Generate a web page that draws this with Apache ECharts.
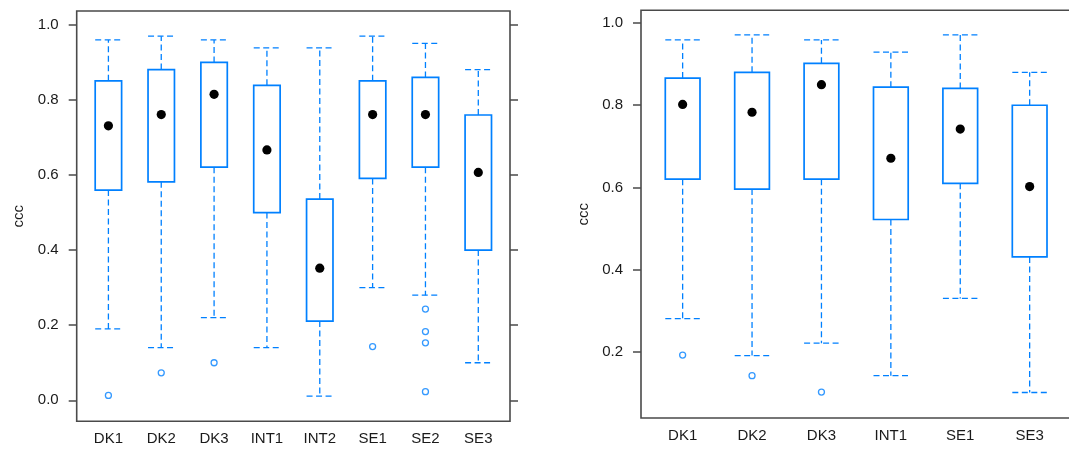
<!DOCTYPE html>
<html>
<head>
<meta charset="utf-8">
<script src="https://cdn.jsdelivr.net/npm/echarts@6/dist/echarts.min.js"></script>
<style>
html,body{margin:0;padding:0;background:#fff;}
#chart{width:1069px;height:451px;}
</style>
</head>
<body>
<div id="chart"></div>
<script>
// ---------- Data ----------
const leftCategories = ['DK1','DK2','DK3','INT1','INT2','SE1','SE2','SE3'];
const leftLowerWhisker = [0.19, 0.14, 0.22, 0.14, 0.011, 0.30, 0.28, 0.10];
const leftQ1           = [0.56, 0.582, 0.621, 0.50, 0.211, 0.591, 0.621, 0.40];
const leftMedian       = [0.731, 0.761, 0.815, 0.667, 0.352, 0.761, 0.761, 0.607];
const leftQ3           = [0.851, 0.881, 0.90, 0.839, 0.536, 0.851, 0.86, 0.76];
const leftUpperWhisker = [0.96, 0.97, 0.96, 0.939, 0.939, 0.97, 0.951, 0.881];
const leftOutlierCat   = ['DK1','DK2','DK3','SE1','SE2','SE2','SE2','SE2'];
const leftOutlierVal   = [0.013, 0.073, 0.10, 0.143, 0.243, 0.183, 0.153, 0.023];

const rightCategories = ['DK1','DK2','DK3','INT1','SE1','SE3'];
const rightLowerWhisker = [0.281, 0.191, 0.221, 0.142, 0.330, 0.101];
const rightQ1           = [0.620, 0.596, 0.620, 0.522, 0.610, 0.431];
const rightMedian       = [0.802, 0.783, 0.850, 0.671, 0.742, 0.602];
const rightQ3           = [0.866, 0.880, 0.902, 0.844, 0.841, 0.800];
const rightUpperWhisker = [0.959, 0.971, 0.959, 0.929, 0.971, 0.880];
const rightOutlierCat   = ['DK1','DK2','DK3'];
const rightOutlierVal   = [0.192, 0.142, 0.102];

const leftYTicks  = [0, 0.2, 0.4, 0.6, 0.8, 1.0];
const rightYTicks = [0.2, 0.4, 0.6, 0.8, 1.0];
const yAxisName = 'ccc';

// ---------- Styles ----------
const BLUE = '#0080ff';
const FRAME = '#4a4a4a';
const TEXT = '#1a1a1a';
const FONT = 'Liberation Sans, Arial, sans-serif';

function boxData(cats, lo, q1, med, q3, hi) {
  return cats.map((c, i) => [i + 1, lo[i], q1[i], med[i], q3[i], hi[i]]);
}
function outlierData(cats, oc, ov) {
  return oc.map((c, i) => [cats.indexOf(c) + 1, ov[i]]);
}

function renderBox(params, api) {
  const x = api.value(0);
  const lo = api.value(1), q1 = api.value(2), md = api.value(3), q3 = api.value(4), hi = api.value(5);
  const halfW = api.size([0.5, 0])[0] / 2;
  const pLo = api.coord([x, lo]);
  const pQ1 = api.coord([x, q1]);
  const pMd = api.coord([x, md]);
  const pQ3 = api.coord([x, q3]);
  const pHi = api.coord([x, hi]);
  const cx = pMd[0];
  const dashStyle = {stroke: BLUE, lineWidth: 1.3, lineDash: [6, 3.5], fill: null};
  return {
    type: 'group',
    children: [
      {type: 'line', shape: {x1: cx, y1: pQ3[1], x2: cx, y2: pHi[1]}, style: dashStyle},
      {type: 'line', shape: {x1: cx, y1: pQ1[1], x2: cx, y2: pLo[1]}, style: dashStyle},
      {type: 'line', shape: {x1: cx - halfW, y1: pHi[1], x2: cx + halfW, y2: pHi[1]}, style: dashStyle},
      {type: 'line', shape: {x1: cx - halfW, y1: pLo[1], x2: cx + halfW, y2: pLo[1]}, style: dashStyle},
      {type: 'rect', shape: {x: cx - halfW, y: pQ3[1], width: 2 * halfW, height: pQ1[1] - pQ3[1]},
       style: {stroke: BLUE, lineWidth: 1.7, fill: '#fff'}},
      {type: 'circle', shape: {cx: cx, cy: pMd[1], r: 4.6}, style: {fill: '#000', stroke: null}}
    ]
  };
}

function xAxisCfg(gridIndex, cats) {
  return {
    type: 'value', gridIndex: gridIndex, min: 0.4, max: cats.length + 0.6,
    axisLine: {show: false}, axisTick: {show: false}, splitLine: {show: false},
    axisLabel: {
      customValues: cats.map((c, i) => i + 1),
      formatter: v => cats[Math.round(v) - 1] || '',
      color: TEXT, fontSize: 15, fontFamily: FONT, margin: 10
    }
  };
}
function yAxisCfg(gridIndex, min, max, ticks, position, showLabels) {
  return {
    type: 'value', gridIndex: gridIndex, min: min, max: max, position: position,
    name: showLabels ? yAxisName : '', nameLocation: 'middle', nameRotate: 90, nameGap: 50,
    nameTextStyle: {color: TEXT, fontSize: 15, fontFamily: FONT},
    axisLine: {show: false},
    axisTick: {show: true, inside: false, length: 8, customValues: ticks,
               lineStyle: {color: FRAME, width: 1.5}},
    axisLabel: {show: showLabels, customValues: ticks, formatter: v => v.toFixed(1),
                color: TEXT, fontSize: 15, fontFamily: FONT, margin: 18},
    splitLine: {show: false}
  };
}

const chart = echarts.init(document.getElementById('chart'), null, {renderer: 'canvas'});
chart.setOption({
  animation: false,
  backgroundColor: '#fff',
  grid: [
    {left: 76.7, top: 11, width: 433.3, height: 410.3, show: true, borderColor: FRAME, borderWidth: 1.6,
     backgroundColor: 'transparent', outerBoundsMode: 'none', containLabel: false},
    {left: 641, top: 10.3, width: 430.3, height: 407.7, show: true, borderColor: FRAME, borderWidth: 1.6,
     backgroundColor: 'transparent', outerBoundsMode: 'none', containLabel: false}
  ],
  xAxis: [xAxisCfg(0, leftCategories), xAxisCfg(1, rightCategories)],
  yAxis: [
    yAxisCfg(0, -0.056, 1.037, leftYTicks, 'left', true),
    yAxisCfg(0, -0.056, 1.037, leftYTicks, 'right', false),
    yAxisCfg(1, 0.039, 1.031, rightYTicks, 'left', true)
  ],
  series: [
    {type: 'custom', xAxisIndex: 0, yAxisIndex: 0, renderItem: renderBox, clip: false,
     data: boxData(leftCategories, leftLowerWhisker, leftQ1, leftMedian, leftQ3, leftUpperWhisker)},
    {type: 'scatter', xAxisIndex: 0, yAxisIndex: 0, symbol: 'circle', symbolSize: 6,
     itemStyle: {color: '#fff', borderColor: BLUE, borderWidth: 1.3},
     data: outlierData(leftCategories, leftOutlierCat, leftOutlierVal)},
    {type: 'custom', xAxisIndex: 1, yAxisIndex: 2, renderItem: renderBox, clip: false,
     data: boxData(rightCategories, rightLowerWhisker, rightQ1, rightMedian, rightQ3, rightUpperWhisker)},
    {type: 'scatter', xAxisIndex: 1, yAxisIndex: 2, symbol: 'circle', symbolSize: 6,
     itemStyle: {color: '#fff', borderColor: BLUE, borderWidth: 1.3},
     data: outlierData(rightCategories, rightOutlierCat, rightOutlierVal)}
  ]
});
</script>
</body>
</html>
